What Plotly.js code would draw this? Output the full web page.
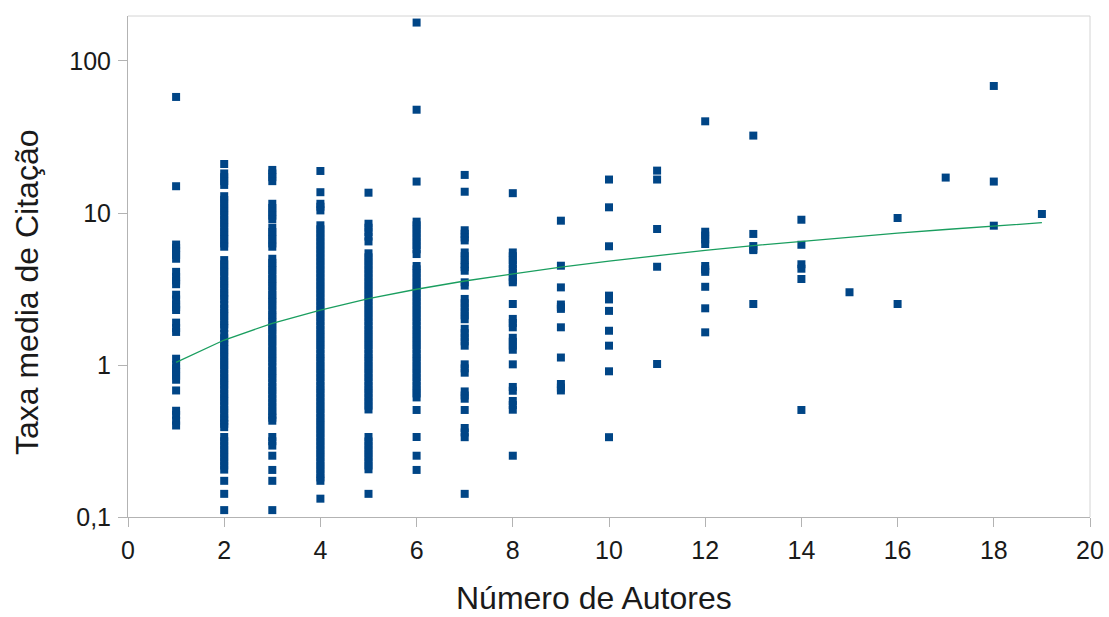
<!DOCTYPE html>
<html>
<head>
<meta charset="utf-8">
<script src="https://cdn.plot.ly/plotly-3.0.1.min.js"></script>
<style>
  html, body { margin: 0; padding: 0; background: #ffffff; }
  #chart { width: 1109px; height: 617px; }
</style>
</head>
<body>
<div id="chart"></div>
<script>
// Number of authors (x categories)
const autores = [1, 2, 3, 4, 5, 6, 7, 8, 9, 10, 11, 12, 13, 14, 15, 16, 17, 18, 19];

// Mean citation rate values read per number of authors
const taxa1 = [58, 15, 6.2, 5.9, 5.6, 5.3, 5.0, 4.1, 3.8, 3.6, 3.4, 2.9, 2.7, 2.5, 2.4, 2.3, 1.9, 1.75, 1.65, 1.1, 1.0, 0.95, 0.9, 0.85, 0.8, 0.68, 0.5, 0.47, 0.43, 0.4];
const taxa2 = [21, 18.2, 17.2, 16.2, 15.3, 12.9, 12.2, 11.5, 10.8, 10.2, 9.6, 9.0, 8.5, 8.0, 7.5, 7.1, 6.7, 6.3, 6.0,
  4.9, 4.6, 4.35, 4.1, 3.85, 3.6, 3.4, 3.2, 3.0, 2.85, 2.7, 2.5, 2.35, 2.2, 2.1, 1.95, 1.85, 1.75, 1.6, 1.5, 1.42, 1.35, 1.27, 1.2, 1.13, 1.06, 1.0, 0.94, 0.88, 0.83, 0.78, 0.74, 0.69, 0.65, 0.61, 0.58, 0.54, 0.51, 0.48, 0.45, 0.43, 0.41, 0.39,
  0.336, 0.315, 0.296, 0.278, 0.262, 0.247, 0.232, 0.218, 0.205, 0.173, 0.142, 0.111];
const taxa3 = [19.2, 18.2, 17.2, 16.2, 11.5, 10.8, 10.2, 9.6, 9.1, 8.0, 7.5, 7.1, 6.7, 6.3, 6.0,
  5.0, 4.7, 4.45, 4.2, 3.95, 3.7, 3.5, 3.3, 3.1, 2.9, 2.75, 2.6, 2.45, 2.3, 2.15, 2.05, 1.92, 1.8, 1.7, 1.6, 1.5, 1.42, 1.33, 1.25, 1.18, 1.11, 1.05, 0.98, 0.92, 0.87, 0.82, 0.77, 0.72, 0.68, 0.64, 0.6, 0.565, 0.53, 0.5, 0.47, 0.45, 0.43,
  0.336, 0.315, 0.295, 0.253, 0.204, 0.173, 0.111];
const taxa4 = [18.9, 13.7, 11.5, 11.0, 10.4,
  8.30, 7.81, 7.35, 6.92, 6.51, 6.13, 5.77, 5.43, 5.11, 4.81, 4.53, 4.26, 4.01, 3.77, 3.55, 3.34, 3.15, 2.96, 2.79, 2.62, 2.47, 2.32, 2.19, 2.06, 1.94, 1.82, 1.71, 1.61, 1.52, 1.43, 1.35, 1.27, 1.19, 1.12, 1.06, 0.99, 0.94, 0.88, 0.83, 0.78, 0.73, 0.69, 0.65, 0.61, 0.575, 0.54, 0.51, 0.48, 0.45, 0.425, 0.40, 0.377, 0.355, 0.334, 0.314, 0.296, 0.278, 0.262, 0.247, 0.232, 0.218, 0.206, 0.193, 0.182, 0.173,
  0.132];
const taxa5 = [13.6, 8.5, 8.0, 7.5, 7.0, 6.5,
  5.43, 5.11, 4.81, 4.53, 4.26, 4.01, 3.77, 3.55, 3.34, 3.15, 2.96, 2.79, 2.62, 2.47, 2.32, 2.19, 2.06, 1.94, 1.82, 1.71, 1.61, 1.52, 1.43, 1.35, 1.27, 1.19, 1.12, 1.06, 0.99, 0.94, 0.88, 0.83, 0.78, 0.73, 0.69, 0.65, 0.61, 0.575, 0.54, 0.51,
  0.336, 0.314, 0.296, 0.278, 0.262, 0.247, 0.232, 0.218, 0.206, 0.142];
const taxa6 = [179, 47.8, 16.1, 8.77, 8.3, 7.81, 7.35, 6.92, 6.51, 6.13, 5.77, 5.37,
  4.48, 4.26, 4.01, 3.77, 3.55, 3.34, 3.15, 2.96, 2.79, 2.62, 2.47, 2.32, 2.19, 2.06, 1.94, 1.82, 1.71, 1.61, 1.52, 1.43, 1.35, 1.27, 1.19, 1.12, 1.06, 0.99, 0.94, 0.88, 0.83, 0.78, 0.73, 0.69, 0.65, 0.612,
  0.506, 0.336, 0.253, 0.204];
const taxa7 = [17.8, 13.8, 7.7, 7.3, 6.9, 6.6, 5.5, 5.2, 4.9, 4.6, 4.4, 4.17, 3.5, 3.33, 2.72, 2.55, 2.4, 2.25, 2.12, 2.0, 1.73, 1.62, 1.52, 1.43, 1.34, 1.01, 0.95, 0.89, 0.67, 0.63, 0.60, 0.506, 0.385, 0.36, 0.335, 0.142];
const taxa8 = [13.5, 5.5, 5.2, 4.9, 4.6, 4.3, 4.05, 3.8, 3.6, 3.5, 2.52, 2.01, 1.89, 1.77, 1.51, 1.42, 1.34, 1.26, 1.01, 0.717, 0.677, 0.58, 0.545, 0.508, 0.253];
const taxa9 = [8.9, 4.5, 3.24, 2.5, 2.4, 2.34, 1.77, 1.12, 0.75, 0.71, 0.68];
const taxa10 = [16.6, 10.9, 6.04, 2.86, 2.7, 2.27, 1.68, 1.34, 0.909, 0.335];
const taxa11 = [19.0, 16.6, 7.85, 4.43, 1.015];
const taxa12 = [40.1, 7.53, 7.1, 6.7, 6.25, 4.48, 4.25, 4.1, 3.27, 2.36, 1.64];
const taxa13 = [32.3, 7.28, 6.06, 5.8, 5.7, 2.52];
const taxa14 = [9.03, 6.18, 4.6, 4.3, 3.68, 0.506];
const taxa15 = [3.01];
const taxa16 = [9.27, 2.52];
const taxa17 = [17.1];
const taxa18 = [68.5, 16.1, 8.25];
const taxa19 = [9.85];

// Trend line values read at each number of authors
const tendencia = [1.04, 1.46, 1.88, 2.30, 2.73, 3.15, 3.57, 3.99, 4.41, 4.83, 5.26, 5.68, 6.10, 6.52, 6.94, 7.37, 7.79, 8.21, 8.63];

// Axis tick labels and titles
const yTickVals = [0.1, 1, 10, 100];
const yTickText = ['0,1', '1', '10', '100'];
const xTitle = 'Número de Autores';
const yTitle = 'Taxa media de Citação';

const colunas = [taxa1, taxa2, taxa3, taxa4, taxa5, taxa6, taxa7, taxa8, taxa9, taxa10,
  taxa11, taxa12, taxa13, taxa14, taxa15, taxa16, taxa17, taxa18, taxa19];

const xs = [], ys = [];
colunas.forEach((col, i) => {
  col.forEach(v => { xs.push(autores[i]); ys.push(v); });
});

const font = 'Liberation Sans, Arial, sans-serif';
const textColor = '#1a1a1a';

const traces = [
  {
    type: 'scatter', mode: 'markers', x: xs, y: ys,
    marker: { symbol: 'square', size: 8, color: '#004586', line: { width: 0 } },
    hoverinfo: 'x+y', showlegend: false
  },
  {
    type: 'scatter', mode: 'lines', x: autores, y: tendencia,
    line: { color: '#1a9e5f', width: 1.3 },
    hoverinfo: 'skip', showlegend: false
  }
];

const layout = {
  width: 1109, height: 617,
  margin: { l: 128, r: 19, t: 16, b: 100 },
  paper_bgcolor: '#ffffff', plot_bgcolor: '#ffffff',
  font: { family: font, color: textColor },
  xaxis: {
    range: [0, 20], tick0: 0, dtick: 2,
    showgrid: false, zeroline: false,
    showline: true, linecolor: '#b3b3b3', linewidth: 1,
    ticks: 'outside', ticklen: 9, tickcolor: '#b3b3b3',
    ticklabelstandoff: 2,
    tickfont: { family: font, size: 25, color: textColor }
  },
  yaxis: {
    type: 'log', range: [-1, 2.296],
    tickvals: yTickVals, ticktext: yTickText,
    showgrid: false, zeroline: false,
    showline: true, linecolor: '#b3b3b3', linewidth: 1,
    ticks: 'outside', ticklen: 9, tickcolor: '#b3b3b3',
    ticklabelstandoff: 2,
    tickfont: { family: font, size: 25, color: textColor }
  },
  annotations: [
    { text: xTitle, xref: 'paper', yref: 'paper', x: 0.4844, y: -0.1617,
      xanchor: 'center', yanchor: 'middle', showarrow: false,
      font: { family: font, size: 32, color: textColor } },
    { text: yTitle, xref: 'paper', yref: 'paper', x: -0.105, y: 0.449,
      xanchor: 'center', yanchor: 'middle', showarrow: false, textangle: -90,
      font: { family: font, size: 32, color: textColor } }
  ],
  shapes: [
    { type: 'line', xref: 'paper', yref: 'paper', x0: 0, x1: 1, y0: 1, y1: 1, line: { color: '#d4d4d4', width: 1 } },
    { type: 'line', xref: 'paper', yref: 'paper', x0: 1, x1: 1, y0: 0, y1: 1, line: { color: '#d4d4d4', width: 1 } }
  ]
};

Plotly.newPlot('chart', traces, layout, { displayModeBar: false, staticPlot: true });
</script>
</body>
</html>
